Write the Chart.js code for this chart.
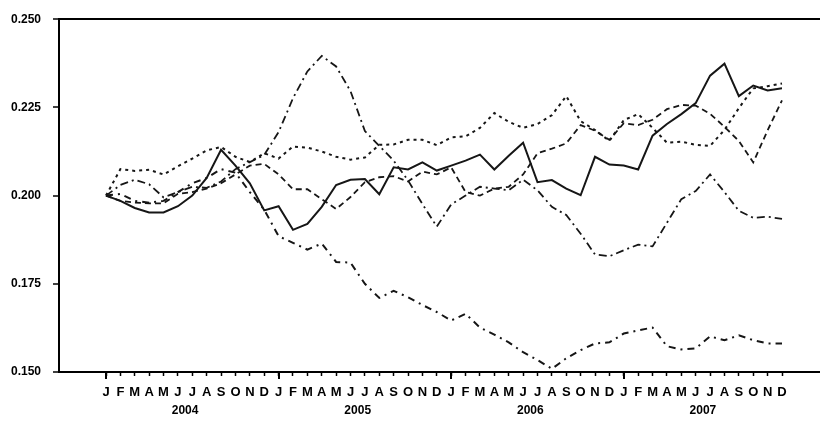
<!DOCTYPE html>
<html>
<head>
<meta charset="utf-8">
<script src="https://cdn.jsdelivr.net/npm/chart.js@4/dist/chart.umd.min.js"></script>
<style>
  html, body { margin: 0; padding: 0; background: #fff; }
  #wrap { width: 820px; height: 421px; }
</style>
</head>
<body>
<div id="wrap"><canvas id="c" width="820" height="421"></canvas></div>
<script>
// Month initials shown under each monthly tick, and the year captions under each block of twelve
const monthLetters = ['J','F','M','A','M','J','J','A','S','O','N','D'];
const years = ['2004', '2005', '2006', '2007'];
const yTickValues = [0.150, 0.175, 0.200, 0.225, 0.250];

// Monthly index values, Jan 2004 – Dec 2007
const solidSeries = [
  0.2000, 0.1985, 0.1965, 0.1952, 0.1952, 0.1970, 0.2000, 0.2050, 0.2130, 0.2085, 0.2035, 0.1958,
  0.1970, 0.1903, 0.1920, 0.1968, 0.2030, 0.2045, 0.2047, 0.2004, 0.2080, 0.2074, 0.2094, 0.2071,
  0.2085, 0.2099, 0.2116, 0.2074, 0.2113, 0.2150, 0.2038, 0.2044, 0.2020, 0.2001, 0.2110, 0.2088,
  0.2085, 0.2074, 0.2170, 0.2203, 0.2231, 0.2262, 0.2340, 0.2374, 0.2282, 0.2312, 0.2298, 0.2304
];
const peakSeries = [
  0.2000, 0.2030, 0.2045, 0.2032, 0.1995, 0.2010, 0.2025, 0.2022, 0.2040, 0.2075, 0.2095, 0.2115,
  0.2180, 0.2276, 0.2352, 0.2396, 0.2366, 0.2296, 0.2183, 0.2141, 0.2099, 0.2043, 0.1976, 0.1912,
  0.1975, 0.2000, 0.2025, 0.2020, 0.2015, 0.2045, 0.2015, 0.1968, 0.1945, 0.1892, 0.1833, 0.1828,
  0.1845, 0.1861, 0.1856, 0.1923, 0.1990, 0.2013, 0.2060, 0.2010, 0.1957, 0.1937, 0.1940, 0.1934
];
const fallingSeries = [
  0.2000, 0.2005, 0.1985, 0.1980, 0.1985, 0.2010, 0.2035, 0.2050, 0.2075, 0.2065, 0.2010, 0.1960,
  0.1885, 0.1866, 0.1847, 0.1864, 0.1812, 0.1810, 0.1750, 0.1710, 0.1730, 0.1712, 0.1690, 0.1670,
  0.1646, 0.1665, 0.1626, 0.1606, 0.1584, 0.1556, 0.1534, 0.1509, 0.1539, 0.1562, 0.1581, 0.1584,
  0.1609, 0.1618, 0.1626, 0.1573, 0.1564, 0.1567, 0.1601, 0.1590, 0.1604, 0.1590, 0.1581, 0.1581
];
const dottedSeries = [
  0.2000, 0.2075, 0.2070, 0.2073, 0.2060, 0.2083, 0.2105, 0.2128, 0.2138, 0.2110, 0.2095, 0.2120,
  0.2105, 0.2139, 0.2136, 0.2125, 0.2110, 0.2102, 0.2108, 0.2144, 0.2145, 0.2158, 0.2158, 0.2143,
  0.2165, 0.2168, 0.2192, 0.2234, 0.2209, 0.2192, 0.2203, 0.2228, 0.2282, 0.2211, 0.2186, 0.2155,
  0.2214, 0.2231, 0.2192, 0.2150, 0.2153, 0.2144, 0.2141, 0.2186, 0.2248, 0.2304, 0.2310, 0.2318
];
const dashedSeries = [
  0.2000, 0.1985, 0.1980, 0.1978, 0.1978, 0.2005, 0.2010, 0.2020, 0.2035, 0.2060, 0.2085, 0.2090,
  0.2060, 0.2018, 0.2018, 0.1990, 0.1962, 0.1996, 0.2038, 0.2052, 0.2055, 0.2040, 0.2068, 0.2060,
  0.2080, 0.2010, 0.2000, 0.2020, 0.2025, 0.2060, 0.2120, 0.2133, 0.2148, 0.2200, 0.2184, 0.2158,
  0.2205, 0.2200, 0.2215, 0.2245, 0.2257, 0.2255, 0.2232, 0.2195, 0.2155, 0.2094, 0.2185, 0.2270
];

const INK = '#161616';
const LABEL_FONT = '"Liberation Sans Narrow", "Liberation Sans", Arial, sans-serif';
const monthCount = years.length * monthLetters.length;
const toPoints = arr => arr.map((v, i) => ({ x: i, y: v }));

function lineSet(values, dash, width) {
  return {
    data: toPoints(values),
    borderColor: INK,
    borderWidth: width,
    borderDash: dash,
    pointRadius: 0,
    tension: 0,
    fill: false
  };
}

// Longer tick at each January and the year caption centred under its twelve months
const yearAxisPlugin = {
  id: 'yearAxis',
  afterDraw(chart) {
    const xs = chart.scales.x;
    const ctx = chart.ctx;
    ctx.save();
    ctx.strokeStyle = '#000';
    ctx.lineWidth = 2;
    ctx.fillStyle = '#000';
    ctx.font = 'bold 12px ' + LABEL_FONT;
    ctx.textAlign = 'center';
    ctx.textBaseline = 'middle';
    years.forEach((yr, k) => {
      const first = k * monthLetters.length;
      const last = first + monthLetters.length - 1;
      const px = Math.round(xs.getPixelForValue(first));
      ctx.beginPath();
      ctx.moveTo(px, xs.top);
      ctx.lineTo(px, xs.top + 7);
      ctx.stroke();
      const cx = (xs.getPixelForValue(first) + xs.getPixelForValue(last)) / 2;
      ctx.fillText(yr, cx, 411);
    });
    ctx.restore();
  }
};

new Chart(document.getElementById('c'), {
  type: 'line',
  data: {
    datasets: [
      lineSet(solidSeries, [], 2),
      lineSet(peakSeries, [8, 4, 2, 4], 1.8),
      lineSet(fallingSeries, [7, 5, 2, 5], 2),
      lineSet(dottedSeries, [3, 4], 2),
      lineSet(dashedSeries, [6, 4], 1.8)
    ]
  },
  options: {
    responsive: false,
    animation: false,
    devicePixelRatio: 1,
    layout: { padding: { top: 15, right: 0, bottom: 0, left: 0 } },
    plugins: { legend: { display: false }, tooltip: { enabled: false } },
    scales: {
      x: {
        type: 'linear',
        min: -3.268,
        max: 49.642,
        afterFit: s => { s.height = 49; },
        afterBuildTicks: s => {
          s.ticks = Array.from({ length: monthCount }, (_, i) => ({ value: i }));
        },
        border: { display: true, color: '#000', width: 2 },
        grid: { display: true, drawOnChartArea: false, drawTicks: true, tickLength: 4, tickColor: '#000', tickWidth: 1.5 },
        ticks: {
          autoSkip: false,
          maxRotation: 0,
          padding: 9,
          color: '#000',
          font: { family: '"Liberation Sans", Arial, sans-serif', size: 13, weight: 'bold' },
          callback: v => monthLetters[v % monthLetters.length]
        }
      },
      y: {
        min: 0.150,
        max: 0.250,
        afterFit: s => { s.width = 59; },
        afterBuildTicks: s => { s.ticks = yTickValues.map(v => ({ value: v })); },
        border: { display: true, color: '#000', width: 2 },
        grid: {
          display: true,
          drawOnChartArea: true,
          drawTicks: true,
          tickLength: 6,
          tickColor: '#000',
          tickWidth: 1.5,
          color: c => (c.tick && Math.abs(c.tick.value - 0.25) < 1e-9) ? '#000' : 'rgba(0,0,0,0)',
          lineWidth: 2
        },
        ticks: {
          padding: 12,
          color: '#000',
          font: { family: LABEL_FONT, size: 12, weight: 'bold' },
          callback: v => v.toFixed(3)
        }
      }
    }
  },
  plugins: [yearAxisPlugin]
});
</script>
</body>
</html>
